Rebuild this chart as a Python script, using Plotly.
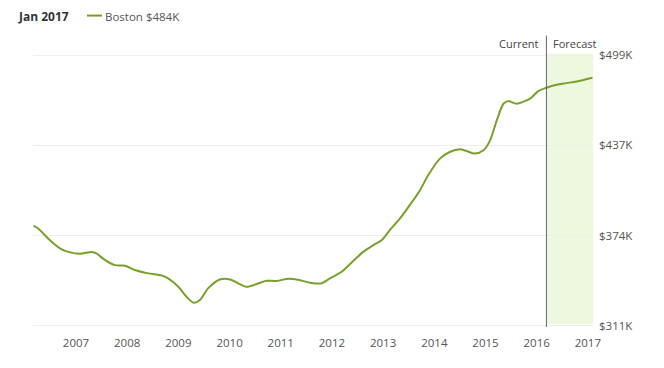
import plotly.graph_objects as go

# ---- data (decimal years, home value in $K) ----
years = [2006.17, 2006.26, 2006.49, 2006.72, 2006.85, 2007.08, 2007.31, 2007.40,
         2007.57, 2007.76, 2007.96, 2008.15, 2008.41, 2008.67, 2008.80, 2009.00,
         2009.16, 2009.30, 2009.42, 2009.58, 2009.81, 2010.01, 2010.17, 2010.33,
         2010.53, 2010.72, 2010.92, 2011.15, 2011.34, 2011.57, 2011.80, 2011.96,
         2012.19, 2012.35, 2012.61, 2012.81, 2012.97, 2013.13, 2013.33, 2013.52,
         2013.72, 2013.88, 2014.11, 2014.30, 2014.50, 2014.63, 2014.79, 2014.96,
         2015.09, 2015.22, 2015.35, 2015.44, 2015.61, 2015.80, 2015.87, 2016.03,
         2016.19, 2016.39, 2016.58, 2016.78, 2017.09]
values = [380.4, 378.6, 370.5, 364.1, 362.4, 361.1, 362.4, 361.3,
          356.7, 353.2, 352.8, 349.8, 347.5, 346.1, 344.0, 338.2,
          331.3, 327.1, 329.0, 337.1, 343.3, 343.3, 340.6, 338.2,
          340.1, 342.4, 342.2, 343.8, 343.1, 341.0, 340.6, 344.0,
          348.6, 353.9, 362.4, 367.1, 370.5, 377.5, 385.6, 394.8,
          405.2, 415.6, 427.1, 431.7, 433.6, 432.4, 430.6, 432.9,
          439.8, 453.6, 465.2, 467.0, 465.2, 467.5, 468.7, 473.9,
          476.3, 478.4, 479.5, 480.6, 483.2]

x_ticks = [2007, 2008, 2009, 2010, 2011, 2012, 2013, 2014, 2015, 2016, 2017]
x_tick_labels = [str(y) for y in x_ticks]
y_ticks = [311.0, 373.67, 436.33, 499.0]
y_tick_labels = ["$311K", "$374K", "$437K", "$499K"]

current_year = 2016.19
forecast_end = 2017.10
series_name = "Boston $484K"
header_date = "Jan 2017"

LINE = "#76a12a"
TEXT = "#555555"
FONT = "Open Sans"

# page body adds an 8px offset; layout below is in page pixels
OFF = 8
L, T, W, H = 33, 53.5, 560, 273.5   # plot area on the page


def px_x(sx):
    return (sx - L) / W


def px_y(sy):
    return (T + H - sy) / H


fig = go.Figure()
fig.add_trace(go.Scatter(
    x=years, y=values, mode="lines", name=series_name,
    line=dict(color=LINE, width=2, shape="spline", smoothing=0.8),
    hoverinfo="skip", showlegend=False,
))

# forecast shading and current divider
fig.add_shape(type="rect", xref="x", yref="paper", x0=current_year, x1=forecast_end,
              y0=px_y(324), y1=px_y(53), fillcolor="#eef8de", line_width=0, layer="below")
fig.add_shape(type="line", xref="x", yref="paper", x0=current_year, x1=current_year,
              y0=px_y(327), y1=px_y(35), line=dict(color="#666666", width=1))

fig.add_annotation(x=current_year, xref="x", y=px_y(43), yref="paper", text="Current",
                   showarrow=False, xanchor="right", xshift=-5, yanchor="middle",
                   font=dict(family=FONT, size=11, color="#444444"))
fig.add_annotation(x=current_year, xref="x", y=px_y(43), yref="paper", text="Forecast",
                   showarrow=False, xanchor="left", xshift=5, yanchor="middle",
                   font=dict(family=FONT, size=11, color="#444444"))

# header / legend
fig.add_annotation(x=px_x(17), xref="paper", y=px_y(15.5), yref="paper",
                   text="<b>" + header_date + "</b>", showarrow=False,
                   xanchor="left", yanchor="middle", borderpad=0,
                   font=dict(family=FONT, size=12, color="#333333"))
fig.add_shape(type="line", xref="paper", yref="paper",
              x0=px_x(87), x1=px_x(102), y0=px_y(15), y1=px_y(15),
              line=dict(color="#7f9a22", width=2))
fig.add_annotation(x=px_x(106), xref="paper", y=px_y(15.5), yref="paper",
                   text=series_name, showarrow=False, xanchor="left", yanchor="middle",
                   xshift=-2, borderpad=0, font=dict(family=FONT, size=11.5, color=TEXT))

fig_w, fig_h = 664 - OFF, 368 - OFF
fig.update_layout(
    width=fig_w, height=fig_h,
    margin=dict(l=L - OFF, r=fig_w - (L - OFF + W), t=T - OFF, b=fig_h - (T - OFF + H)),
    paper_bgcolor="white", plot_bgcolor="white",
    font=dict(family=FONT, size=11.5, color=TEXT),
    hovermode=False,
    showlegend=False,
)
fig.update_xaxes(range=[2006.16, forecast_end], tickvals=x_ticks, ticktext=x_tick_labels,
                 showgrid=False, zeroline=False, showline=False, ticks="",
                 ticklabelstandoff=7, tickfont=dict(family=FONT, size=11.5, color=TEXT))
fig.update_yaxes(range=[310.3, 499.7], side="right", tickvals=y_ticks, ticktext=y_tick_labels,
                 showgrid=True, gridcolor="#eeeeee", gridwidth=1, zeroline=False,
                 showline=False, ticks="", ticklabelstandoff=5,
                 tickfont=dict(family=FONT, size=11.5, color=TEXT))

fig.write_html("out.html")
